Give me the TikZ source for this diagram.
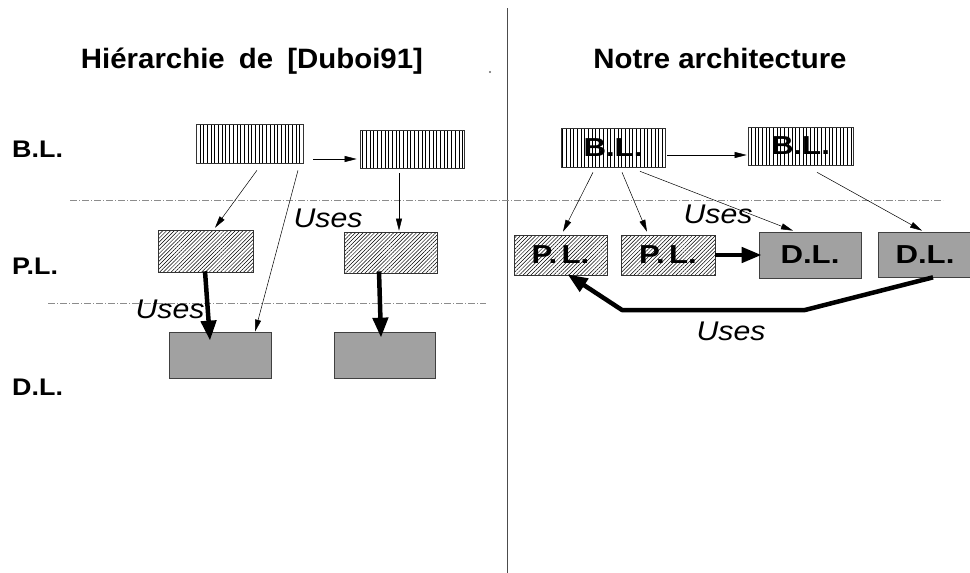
\documentclass[tikz,border=0pt]{standalone}
\usepackage{fontspec}
\setmainfont{Liberation Sans}
\newfontfamily\titlefont[FakeStretch=1.05]{Liberation Sans}
\newfontfamily\widefont[FakeStretch=1.12]{Liberation Sans}
\newfontfamily\boxfont[FakeStretch=1.2]{Liberation Sans}
\usetikzlibrary{patterns.meta,arrows.meta,calc}
\begin{document}
\begin{tikzpicture}[x=1pt,y=-1pt,
  boxtext/.style={inner sep=0pt,font=\boxfont\fontsize{26}{26}\bfseries\selectfont},
  vbox/.style={boxtext,draw=black!80,line width=0.6pt,pattern={Lines[angle=90,distance=3.7pt,line width=0.55pt]}},
  dbox/.style={boxtext,draw=black!80,line width=0.6pt,pattern={Lines[angle=45,distance=2.7pt,line width=0.5pt]}},
  gbox/.style={boxtext,draw=black!75,line width=0.7pt,fill=black!37},
  thin/.style={line width=0.5pt,-{Triangle[length=12pt,width=6pt]}},
  thick/.style={line width=4.5pt,-{Triangle[length=20pt,width=15pt]}},
  uses/.style={font=\widefont\fontsize{27}{27}\itshape\selectfont,inner sep=0pt,anchor=base},
  rowlbl/.style={font=\widefont\fontsize{24}{24}\bfseries\selectfont,anchor=base west,inner sep=0pt},
  title/.style={font=\titlefont\fontsize{28}{28}\bfseries\selectfont,inner sep=0pt,anchor=base},
  sep/.style={black!45,line width=0.5pt,dash pattern=on 7pt off 2pt on 1pt off 2pt}
]
\useasboundingbox (0,0) rectangle (970,573);
% separators
\draw[black!70,line width=0.7pt] (507,8) -- (507,573);
\draw[sep] (70,200) -- (943,200);
\draw[sep] (48,303) -- (486,303);
\fill[black!60] (490,72) circle (1.1);
% titles
\node[title] (t1) at (252,68) {Hiérarchie\hspace{6pt} de\hspace{6pt} [Duboi91]};
\node[title] (t2) at (720,68) {Notre architecture};
% row labels
\node[rowlbl] (rb) at (12,157) {B.L.};
\node[rowlbl] (rp) at (12,274) {P.L.};
\node[rowlbl] (rd) at (12,395) {D.L.};
% left boxes
\node[vbox,minimum width=107pt,minimum height=39pt] (bl1) at (249.5,143.5) {};
\node[vbox,minimum width=104pt,minimum height=38pt] (bl2) at (412,149) {};
\node[dbox,minimum width=95pt,minimum height=42pt] (pl1) at (205.5,251) {};
\node[dbox,minimum width=93pt,minimum height=41pt] (pl2) at (390.5,252.5) {};
\node[gbox,minimum width=102pt,minimum height=46pt] (dl1) at (220,355) {};
\node[gbox,minimum width=101pt,minimum height=46pt] (dl2) at (384.5,355) {};
% left arrows
\draw[thin] ($(bl1.east)+(10,15.5)$) -- ($(bl2.west)+(-3,10)$);
\draw[thin] ($(bl1.south)+(7.5,7)$) -- ($(pl1.north)+(9.5,-2)$);
\draw[thin] ($(bl1.south)+(48.5,7)$) -- ($(dl1.north)+(35,0)$);
\draw[thin] ($(bl2.south)+(-13,5)$) -- ($(pl2.north)+(8.5,-1)$);
\draw[thick] ($(pl1.south)+(-0.5,-1)$) -- ($(dl1.north)+(-10,9)$);
\draw[thick] ($(pl2.south)+(-11.5,-2)$) -- ($(dl2.north)+(-3.5,6)$);
\node[uses] (u1) at (328,227) {Uses};
\node[uses] (u2) at (170,318) {Uses};
% right boxes
\node[vbox,minimum width=104pt,minimum height=39pt] (rbl1) at (613,147.5) {B.L.};
\node[vbox,minimum width=105pt,minimum height=38pt] (rbl2) at (800.5,146) {B.L.};
\node[dbox,minimum width=93pt,minimum height=40pt] (rpl1) at (560.5,255) {P.\,L.};
\node[dbox,minimum width=94pt,minimum height=40pt] (rpl2) at (668,255) {P.\,L.};
\node[gbox,minimum width=102pt,minimum height=46pt] (rdl1) at (810,255) {\raisebox{-4pt}{D.L.}};
\node[gbox,minimum width=94pt,minimum height=45pt] (rdl2) at (925,254.5) {\raisebox{-4pt}{D.L.}};
% right arrows
\draw[thin] ($(rbl1.east)+(2,7.5)$) -- ($(rbl2.west)+(-1,9)$);
\draw[thin] ($(rbl1.south)+(-20,5)$) -- ($(rpl1.north)+(2.5,-3)$);
\draw[thin] ($(rbl1.south)+(9,5)$) -- ($(rpl2.north)+(-21,-3)$);
\draw[thin] ($(rbl1.south)+(27,4)$) -- ($(rdl1.north)+(-17,-1)$);
\draw[thin] ($(rbl2.south)+(16.5,7)$) -- ($(rdl2.north)+(-3,-1)$);
\draw[thick] (rpl2.east) -- ($(rdl1.west)+(3,0)$);
\coordinate (c1) at (805,310);
\coordinate (c2) at (622,310);
\draw[thick,line join=round] ($(rdl2.south)+(8,0)$) -- (c1) -- (c2) -- ($(rpl1.south)+(7,-1)$);
\node[uses] (u3) at (718,223) {Uses};
\node[uses] (u4) at (731,340) {Uses};
\end{tikzpicture}
\end{document}
